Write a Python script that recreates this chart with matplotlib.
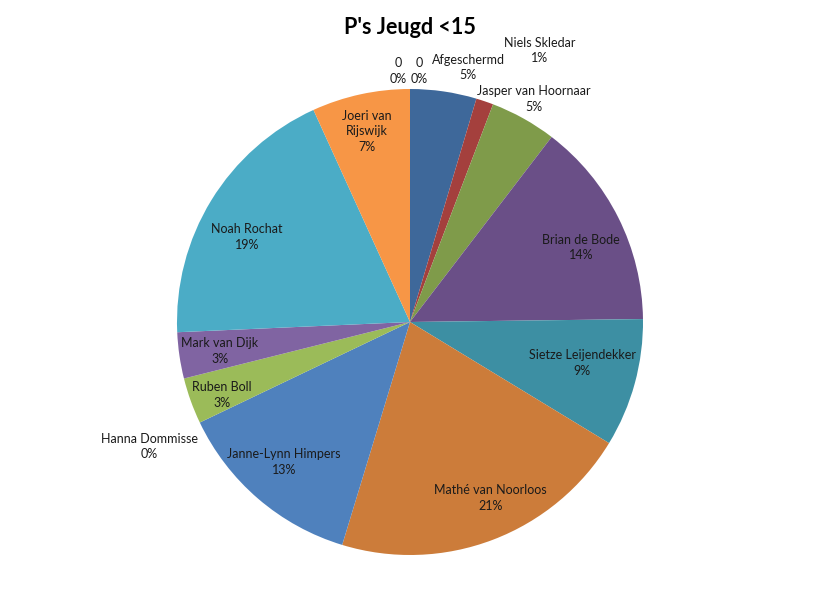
import numpy as np
import matplotlib
matplotlib.use("Agg")
import matplotlib.pyplot as plt

plt.rcParams['font.family'] = ['Lato', 'DejaVu Sans']

# data (share per player, shown as percent of total)
names = ["Afgeschermd", "Niels Skledar", "Jasper van Hoornaar", "Brian de Bode",
         "Sietze Leijendekker", "Mathé van Noorloos", "Janne-Lynn Himpers",
         "Hanna Dommisse", "Ruben Boll", "Mark van Dijk", "Noah Rochat",
         "Joeri van Rijswijk", "0", "0"]
values = [4.6, 1.2, 4.6, 14.4, 8.9, 21.0, 13.2, 0, 3.2, 3.2, 18.9, 6.8, 0, 0]
label_names = ["Afgeschermd", "Niels Skledar", "Jasper van Hoornaar", "Brian de Bode",
               "Sietze Leijendekker", "Mathé van Noorloos", "Janne-Lynn Himpers",
               "Hanna Dommisse", "Ruben Boll", "Mark van Dijk", "Noah Rochat",
               "Joeri van\nRijswijk", "0", "0"]
colors = ["#3E689A", "#A4403D", "#7F9B4A", "#6A4F87", "#3D8FA3", "#CC7C3A",
          "#4F81BD", "#C0504D", "#9BBB59", "#8064A2", "#4BACC6", "#F79646",
          "#2C4D75", "#772C2A"]

# label placement: (radius factor, angle in degrees clockwise from top)
label_place = [(1.12, 12.9), (1.29, 25.5), (1.095, 29.1), (0.80, 66.5),
               (0.76, 103.4), (0.83, 155.4), (0.808, 222.0), (1.24, 244.5),
               (0.866, 248.8), (0.825, 261.3), (0.79, 297.5), (0.84, 347.3),
               (1.078, -2.6), (1.078, 2.0)]

fig = plt.figure(figsize=(8.2, 6.07), dpi=100)
ax = fig.add_axes([0, 0, 1, 1])

wedges, _ = ax.pie(values, colors=colors, startangle=90, counterclock=False,
                   radius=1.0, wedgeprops=dict(linewidth=0))

# pie resets limits, so set them afterwards (center at 410,322 px, radius 233 px)
ax.set_aspect('auto')
ax.set_xlim(-410 / 233, 410 / 233)
ax.set_ylim(-285 / 233, 322 / 233)
ax.axis('off')

total = sum(values)
for w, lab, v, (rf, ang) in zip(wedges, label_names, values, label_place):
    mid = np.deg2rad(90 - ang)
    x, y = rf * np.cos(mid), rf * np.sin(mid)
    pct = f"{int(np.floor(100 * v / total + 0.5))}%"
    ax.text(x, y, f"{lab}\n{pct}", ha='center', va='center', fontsize=9,
            color='#1a1a1a', linespacing=1.35)

fig.text(0.5, 1 - 27 / 607, "P's Jeugd <15", ha='center', va='center',
         fontsize=15.5, fontweight='bold')

fig.savefig("out.png", dpi=100)
